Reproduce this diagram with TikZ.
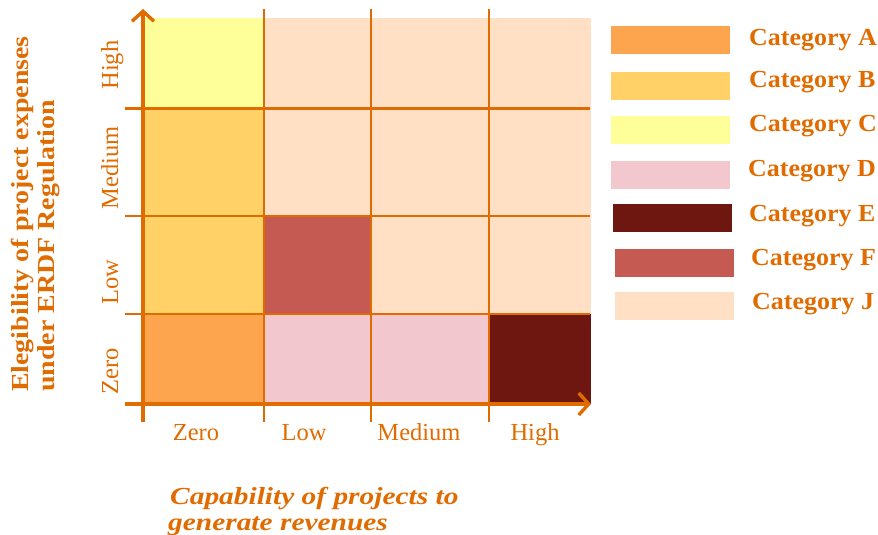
\documentclass[tikz,border=0pt]{standalone}
\usepackage{fontspec}
\setmainfont{Liberation Serif}
\newfontfamily\legendfont{Liberation Serif}[FakeStretch=1.06]
\newfontfamily\ytitlefont{Liberation Serif}[FakeStretch=1.14]
\newfontfamily\xtitlefont{Liberation Serif}[FakeStretch=1.2]
\usetikzlibrary{arrows.meta,positioning}
\definecolor{rust}{HTML}{E06B00}
\definecolor{catA}{HTML}{FDA44F}
\definecolor{catB}{HTML}{FFD166}
\definecolor{catC}{HTML}{FFFF99}
\definecolor{catD}{HTML}{F2C8CE}
\definecolor{catE}{HTML}{6E1711}
\definecolor{catF}{HTML}{C45A52}
\definecolor{catJ}{HTML}{FFE0C4}

\begin{document}
\begin{tikzpicture}[x=1pt,y=-1pt]
        \tikzstyle{grid} = [draw=rust, line width=2.2pt]
        \tikzstyle{axis} = [draw=rust, line width=3.8pt, -{Straight Barb[length=10pt,width=22pt,line width=3.4pt]}]
        \tikzstyle{swatch} = [minimum width=119pt, minimum height=28pt, inner sep=0pt, anchor=north west]
        \tikzstyle{legend} = [text=rust, inner sep=0pt, anchor=base west, font=\fontsize{24.5}{28}\legendfont\bfseries]
        \tikzstyle{tick} = [text=rust, inner sep=0pt, anchor=base, font=\fontsize{24.5}{28}\selectfont]
        \useasboundingbox (0,0) rectangle (878,535);
        % cells of the matrix
        \fill[catC] (143,18) rectangle (264,108.5);
        \fill[catJ] (264,18) rectangle (591,216);
        \fill[catB] (143,108.5) rectangle (264,314);
        \fill[catF] (264,216) rectangle (371,314);
        \fill[catJ] (371,216) rectangle (591,314);
        \fill[catA] (143,314) rectangle (264,404);
        \fill[catD] (264,314) rectangle (489,404);
        \fill[catE] (489,314) rectangle (591,404);
        \foreach \y in {108.5,216,314}
        \draw[grid] (125,\y) -- (590,\y);
        \foreach \x in {264,371,489}
        \draw[grid] (\x,9) -- (\x,422);
        % axes
        \coordinate (ybot) at (143,422);
        \coordinate (ytop) at (143,9);
        \coordinate (xleft) at (125,404);
        \coordinate (xright) at (591,404);
        \draw[axis] (ybot) -- (ytop);
        \draw[axis] (xleft) -- (xright);
        \node[tick] (x0) at (196,440) {Zero};
        \node[tick] (x1) at (304,440) {Low};
        \node[tick] (x2) at (419,440) {Medium};
        \node[tick] (x3) at (535,440) {High};
        \node[tick, rotate=90] (y0) at (118,371) {Zero};
        \node[tick, rotate=90] (y1) at (118,282) {Low};
        \node[tick, rotate=90] (y2) at (118,168) {Medium};
        \node[tick, rotate=90] (y3) at (118,65) {High};
        \node[text=rust, inner sep=0pt, anchor=base west, rotate=90, font=\fontsize{24.5}{28}\ytitlefont\bfseries]
        (ytitle) at (28,392) {Elegibility of project expenses};
        \node[text=rust, inner sep=0pt, anchor=base west, rotate=90, font=\fontsize{24.5}{28}\ytitlefont\bfseries]
        (ytitleb) at (54,392) {under ERDF Regulation};
        \node[text=rust, inner sep=0pt, anchor=base west, font=\fontsize{24.5}{28}\xtitlefont\bfseries\itshape]
        (xtitle) at (170,504) {Capability of projects to};
        \node[text=rust, inner sep=0pt, anchor=base west, font=\fontsize{24.5}{28}\xtitlefont\bfseries\itshape]
        (xtitleb) at (168,530) {generate revenues};
        % legend
        \foreach \c/\x/\y/\tx/\ty/\l in {catA/611/26/749/46/A, catB/611/72/749/87/B,
        catC/611/116/749/131/C, catD/611/161/748/176/D, catE/613/204/749/221/E,
        catF/615/249/751/265/F, catJ/615/292/752/309/J}
        {
        \node[swatch, fill=\c] (sw\l) at (\x,\y) {};
        \node[legend] (lab\l) at (\tx,\ty) {Category \l};
        }
\end{tikzpicture}
\end{document}
